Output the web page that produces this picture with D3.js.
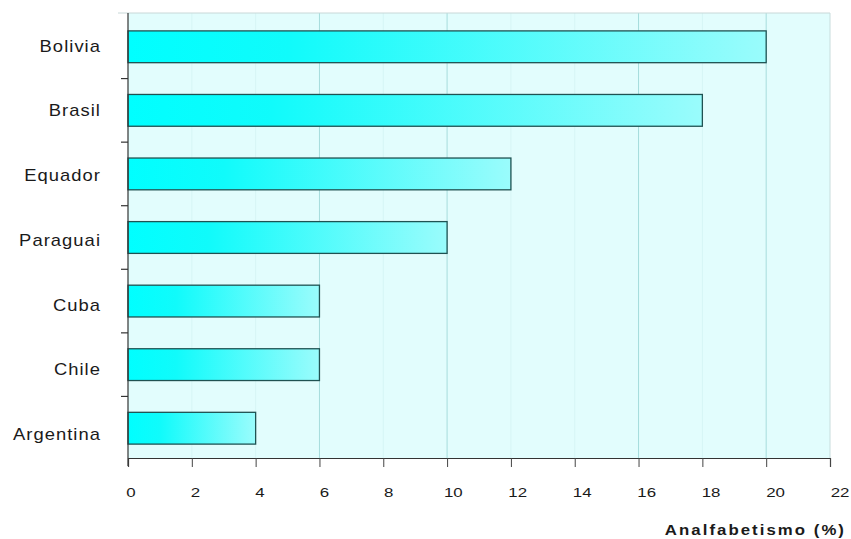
<!DOCTYPE html>
<html>
<head>
<meta charset="utf-8">
<script src="https://cdn.jsdelivr.net/npm/d3@7"></script>
<style>
  html, body { margin: 0; padding: 0; background: #ffffff; }
  svg { display: block; }
  text { font-family: "Liberation Sans", Arial, Helvetica, sans-serif; fill: #1a1a1a; }
</style>
</head>
<body>
<svg id="chart" width="851" height="539"></svg>
<script>
// Illiteracy rate by country (%)
const countries = ["Bolivia", "Brasil", "Equador", "Paraguai", "Cuba", "Chile", "Argentina"];
const illiteracy = [20, 18, 12, 10, 6, 6, 4];
const xTicks = [0, 2, 4, 6, 8, 10, 12, 14, 16, 18, 20, 22];
const majorGrid = [6, 10, 16, 20];
const axisTitle = "Analfabetismo (%)";

const svg = d3.select("#chart");
const plotLeft = 128, plotRight = 830, plotTop = 13, plotBottom = 458;

const x = d3.scaleLinear().domain([0, 22]).range([plotLeft, plotRight]);
// tick labels are spread slightly wider than the tick marks
const xLabel = d3.scaleLinear().domain([0, 22]).range([131, 840]);
const y = d3.scaleBand().domain(countries).range([plotTop + 2, plotBottom + 2]).paddingInner(0.5).paddingOuter(0.25);
// category labels sit on their own slightly wider spacing
const yLabel = d3.scalePoint().domain(countries).range([45.5, 434]);

// gradient for bars: saturated cyan fading lighter to the right
const defs = svg.append("defs");
const grad = defs.append("linearGradient").attr("id", "barGrad")
  .attr("x1", "0%").attr("x2", "100%").attr("y1", "0%").attr("y2", "0%");
grad.append("stop").attr("offset", "0%").attr("stop-color", "#00ffff");
grad.append("stop").attr("offset", "25%").attr("stop-color", "#10fbfb");
grad.append("stop").attr("offset", "100%").attr("stop-color", "#9afcfc");

// plot background
svg.append("rect")
  .attr("x", plotLeft).attr("y", plotTop)
  .attr("width", plotRight - plotLeft).attr("height", plotBottom - plotTop)
  .attr("fill", "#e2fdfd");

// vertical gridlines
svg.append("g").selectAll("line").data(xTicks.filter(d => d > 0 && d < 22)).join("line")
  .attr("x1", d => x(d)).attr("x2", d => x(d))
  .attr("y1", plotTop).attr("y2", plotBottom)
  .attr("stroke", d => majorGrid.includes(d) ? "#a6dcdc" : "#d6f5f5")
  .attr("stroke-width", 1);

// top and right frame
svg.append("line").attr("x1", plotLeft - 10).attr("x2", plotRight).attr("y1", plotTop).attr("y2", plotTop)
  .attr("stroke", "#c8d8d8").attr("stroke-width", 1);
svg.append("line").attr("x1", plotRight).attr("x2", plotRight).attr("y1", plotTop).attr("y2", plotBottom)
  .attr("stroke", "#c8dcdc").attr("stroke-width", 1);

// bars
svg.append("g").selectAll("rect").data(countries).join("rect")
  .attr("x", x(0))
  .attr("y", d => y(d))
  .attr("width", (d, i) => x(illiteracy[i]) - x(0))
  .attr("height", y.bandwidth())
  .attr("fill", "url(#barGrad)")
  .attr("stroke", "#1f5252")
  .attr("stroke-width", 1.3);

// x axis (labels drawn separately with a wider face)
const xAxis = d3.axisBottom(x).tickValues(xTicks).tickSize(9).tickFormat("");
const gx = svg.append("g").attr("transform", `translate(0,${plotBottom})`).call(xAxis);
gx.select(".domain").attr("stroke", "#333").attr("stroke-width", 1.2);
gx.selectAll(".tick line").attr("stroke", "#444");
svg.append("g").selectAll("text").data(xTicks).join("text")
  .attr("transform", d => `translate(${xLabel(d)},497) scale(1.25,1)`)
  .attr("text-anchor", "middle")
  .attr("font-size", 13.5)
  .text(d => d3.format("d")(d));

// y axis: ticks at category boundaries
const gy = svg.append("g").attr("transform", `translate(${plotLeft},0)`);
gy.append("line").attr("x1", 0).attr("x2", 0).attr("y1", plotTop).attr("y2", plotBottom + 8)
  .attr("stroke", "#333").attr("stroke-width", 1.2);
const step = y.step();
gy.selectAll("line.sep").data(countries.slice(1)).join("line").attr("class", "sep")
  .attr("x1", -7).attr("x2", 0)
  .attr("y1", d => y(d) - (step - y.bandwidth()) / 2)
  .attr("y2", d => y(d) - (step - y.bandwidth()) / 2)
  .attr("stroke", "#333").attr("stroke-width", 1.2);
svg.append("g").selectAll("text").data(countries).join("text")
  .attr("transform", d => `translate(101,${yLabel(d) + 6}) scale(1.15,1)`)
  .attr("text-anchor", "end")
  .attr("font-size", 16)
  .style("letter-spacing", "0.9px")
  .text(d => d);

// axis title
svg.append("text")
  .attr("transform", "translate(846,535) scale(1.2,1)")
  .attr("text-anchor", "end")
  .attr("font-size", 14)
  .attr("font-weight", "bold")
  .style("letter-spacing", "1.7px")
  .text(axisTitle);
</script>
</body>
</html>
